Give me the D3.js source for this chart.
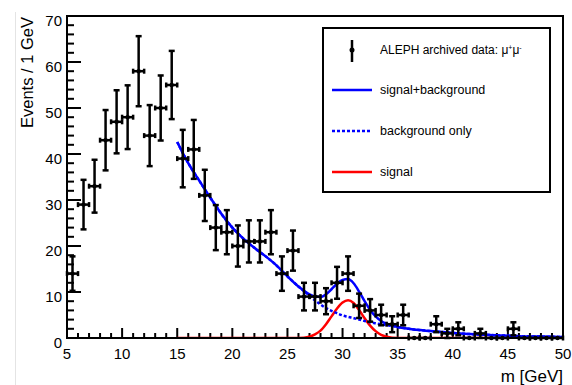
<!DOCTYPE html>
<html>
<head>
<meta charset="utf-8">
<script src="https://cdn.jsdelivr.net/npm/d3@7"></script>
<style>
    body { margin: 0; background: #fff; }
    svg { display: block; font-family: "Liberation Sans", Arial, sans-serif; }
</style>
</head>
<body>
<svg id="chartSvg" width="572" height="385"></svg>
<script>
// histogram of the mu+mu- mass, ALEPH archived data, with fit curves

// bin centres (1 GeV bins) and counts
let binCenters = [5.5, 6.5, 7.5, 8.5, 9.5, 10.5, 11.5, 12.5, 13.5, 14.5,
    15.5, 16.5, 17.5, 18.5, 19.5, 20.5, 21.5, 22.5, 23.5, 24.5,
    25.5, 26.5, 27.5, 28.5, 29.5, 30.5, 31.5, 32.5, 33.5, 34.5,
    35.5, 36.5, 37.5, 38.5, 39.5, 40.5, 41.5, 42.5, 43.5, 44.5,
    45.5, 46.5, 47.5, 48.5, 49.5];
let binCounts = [14, 29, 33, 43, 47, 48, 58, 44, 50, 55,
    39, 41, 31, 24, 23, 20, 21, 21, 23, 14,
    19, 9, 9, 8, 12, 14, 7, 6, 5, 3,
    5, 0, 0, 3, 1, 2, 0, 1, 0, 0,
    2, 0, 0, 0, 0];

// fit curves
let curveX = [15, 16, 17, 18, 19, 20, 21, 22, 23, 24, 25, 26, 27, 27.5, 28, 28.5, 29, 29.5,
    30, 30.5, 31, 31.5, 32, 32.5, 33, 33.5, 34, 35, 36, 38, 40, 42, 44, 46, 48, 50];
let backgroundY = [42.6, 38, 34.2, 30.5, 27, 24, 21.6, 19.6, 17.8, 15.8, 13.4, 11.2, 9.2, 8.2, 7.3, 6.5, 5.9, 5.4,
    4.9, 4.6, 4.3, 4.0, 3.7, 3.4, 3.2, 3.0, 2.8, 2.4, 2.0, 1.5, 1.1, 0.8, 0.6, 0.4, 0.3, 0.2];
let signalY = [0, 0, 0, 0, 0, 0, 0, 0, 0, 0, 0, 0, 0.3, 0.8, 1.6, 3.0, 4.7, 6.4,
    7.7, 8.2, 7.6, 6.1, 4.3, 2.7, 1.5, 0.7, 0.3, 0, 0, 0, 0, 0, 0, 0, 0, 0];
let totalY = [42.6, 38, 34.2, 30.5, 27, 24, 21.6, 19.6, 17.8, 15.8, 13.4, 11.2, 9.5, 9.0, 8.9, 9.5, 10.6, 11.8,
    12.6, 12.8, 11.9, 10.1, 8.0, 6.1, 4.7, 3.7, 3.1, 2.4, 2.0, 1.5, 1.1, 0.8, 0.6, 0.4, 0.3, 0.2];

let xTicks = [5, 10, 15, 20, 25, 30, 35, 40, 45, 50];
let yTicks = [0, 10, 20, 30, 40, 50, 60, 70];

let legendLabels = ["signal+background", "background only", "signal"];
let legendColors = ["#0000ff", "#0000ff", "#ff0000"];
let legendDash = [null, "3,2", null];

let chartMargin = {left: 67, top: 16, right: 9, bottom: 47};
let chartWidth = 572 - chartMargin.left - chartMargin.right;
let chartHeight = 385 - chartMargin.top - chartMargin.bottom;

let xScale = d3.scaleLinear().domain([5, 50]).range([0, chartWidth]);
let yScale = d3.scaleLinear().domain([0, 70]).range([chartHeight, 0]);

function drawChart() {
    let svg = d3.select("#chartSvg");

    // faint edge of the screenshot on the left
    svg.append("line")
        .attr("x1", 15.5).attr("x2", 15.5)
        .attr("y1", 12).attr("y2", 385)
        .attr("stroke", "#e4e4e4")
        .attr("stroke-width", 1);

    let g = svg.append("g")
        .attr("transform", "translate(" + chartMargin.left + "," + chartMargin.top + ")");

    g.append("clipPath").attr("id", "plotClip")
        .append("rect")
        .attr("width", chartWidth)
        .attr("height", chartHeight);

    drawAxes(g);
    drawCurves(g);
    drawPoints(g);
    drawFrame(g);
    drawLegend(svg);
    drawTitles(svg);
}

function drawAxes(g) {
    // ticks point into the frame, like ROOT
    let xMinor = d3.range(5, 51, 1);
    g.append("g")
        .selectAll("line")
        .data(xMinor)
        .enter()
        .append("line")
        .attr("x1", function (d) { return xScale(d); })
        .attr("x2", function (d) { return xScale(d); })
        .attr("y1", chartHeight)
        .attr("y2", function (d) { return d % 5 === 0 ? chartHeight - 10 : chartHeight - 5; })
        .attr("stroke", "#000")
        .attr("stroke-width", 2);

    let yMinor = d3.range(0, 71, 2);
    g.append("g")
        .selectAll("line")
        .data(yMinor)
        .enter()
        .append("line")
        .attr("y1", function (d) { return yScale(d); })
        .attr("y2", function (d) { return yScale(d); })
        .attr("x1", 0)
        .attr("x2", function (d) { return d % 10 === 0 ? 14 : 7; })
        .attr("stroke", "#000")
        .attr("stroke-width", 2);

    g.append("g")
        .selectAll("text")
        .data(xTicks)
        .enter()
        .append("text")
        .attr("x", function (d) { return xScale(d); })
        .attr("y", chartHeight + 21)
        .attr("text-anchor", "middle")
        .attr("font-size", "15px")
        .attr("fill", "#000")
        .text(function (d) { return d; });

    g.append("g")
        .selectAll("text")
        .data(yTicks)
        .enter()
        .append("text")
        .attr("x", -5)
        .attr("y", function (d) { return yScale(d) + 10; })
        .attr("text-anchor", "end")
        .attr("font-size", "15px")
        .attr("fill", "#000")
        .text(function (d) { return d; });
}

function drawCurves(g) {
    let curves = [
        {y: signalY, color: "#ff0000", dash: null},
        {y: backgroundY, color: "#0000ff", dash: "3,2"},
        {y: totalY, color: "#0000ff", dash: null}
    ];
    let fitLine = d3.line()
        .x(function (d) { return xScale(d[0]); })
        .y(function (d) { return yScale(d[1]); })
        .curve(d3.curveMonotoneX);

    g.append("g")
        .attr("clip-path", "url(#plotClip)")
        .selectAll("path")
        .data(curves)
        .enter()
        .append("path")
        .attr("d", function (c) { return fitLine(d3.zip(curveX, c.y)); })
        .attr("fill", "none")
        .attr("stroke", function (c) { return c.color; })
        .attr("stroke-width", 2.5)
        .attr("stroke-dasharray", function (c) { return c.dash; });
}

function drawPoints(g) {
    let pts = d3.zip(binCenters, binCounts).map(function (d) {
        return {x: d[0], n: d[1], err: Math.sqrt(d[1])};
    });

    let pg = g.append("g")
        .selectAll("g")
        .data(pts)
        .enter()
        .append("g")
        .attr("stroke", "#000")
        .attr("stroke-width", 2.5);

    // horizontal bar with small end caps
    pg.append("line")
        .attr("x1", function (d) { return xScale(d.x - 0.5); })
        .attr("x2", function (d) { return xScale(d.x + 0.5); })
        .attr("y1", function (d) { return yScale(d.n); })
        .attr("y2", function (d) { return yScale(d.n); });
    pg.append("line")
        .attr("x1", function (d) { return xScale(d.x - 0.5); })
        .attr("x2", function (d) { return xScale(d.x - 0.5); })
        .attr("y1", function (d) { return yScale(d.n) - 2.5; })
        .attr("y2", function (d) { return yScale(d.n) + 2.5; });
    pg.append("line")
        .attr("x1", function (d) { return xScale(d.x + 0.5); })
        .attr("x2", function (d) { return xScale(d.x + 0.5); })
        .attr("y1", function (d) { return yScale(d.n) - 2.5; })
        .attr("y2", function (d) { return yScale(d.n) + 2.5; });

    // vertical error bar with caps
    pg.filter(function (d) { return d.n > 0; })
        .each(function (d) {
            let el = d3.select(this);
            let cx = xScale(d.x);
            el.append("line")
                .attr("x1", cx).attr("x2", cx)
                .attr("y1", yScale(d.n + d.err))
                .attr("y2", yScale(d.n - d.err));
            el.append("line")
                .attr("x1", cx - 3).attr("x2", cx + 3)
                .attr("y1", yScale(d.n + d.err))
                .attr("y2", yScale(d.n + d.err));
            el.append("line")
                .attr("x1", cx - 3).attr("x2", cx + 3)
                .attr("y1", yScale(d.n - d.err))
                .attr("y2", yScale(d.n - d.err));
        });

    pg.append("circle")
        .attr("cx", function (d) { return xScale(d.x); })
        .attr("cy", function (d) { return yScale(d.n); })
        .attr("r", 2.2)
        .attr("fill", "#000")
        .attr("stroke", "none");
}

function drawFrame(g) {
    g.append("rect")
        .attr("width", chartWidth)
        .attr("height", chartHeight)
        .attr("fill", "none")
        .attr("stroke", "#000")
        .attr("stroke-width", 2);
}

function drawLegend(svg) {
    let lg = svg.append("g");

    lg.append("rect")
        .attr("x", 323).attr("y", 28)
        .attr("width", 227).attr("height", 164)
        .attr("fill", "#fff")
        .attr("stroke", "#000")
        .attr("stroke-width", 2);

    // data marker entry
    lg.append("line")
        .attr("x1", 352).attr("x2", 352)
        .attr("y1", 40).attr("y2", 62)
        .attr("stroke", "#000").attr("stroke-width", 2.5);
    lg.append("circle")
        .attr("cx", 352).attr("cy", 50).attr("r", 2.5)
        .attr("fill", "#000");

    let t = lg.append("text")
        .attr("x", 380).attr("y", 54)
        .attr("font-size", "12px")
        .attr("fill", "#000");
    t.append("tspan").text("ALEPH archived data: \u03bc");
    t.append("tspan").attr("dy", -4).attr("font-size", "7px").text("+");
    t.append("tspan").attr("dy", 4).text("\u03bc");
    t.append("tspan").attr("dy", -4).attr("font-size", "7px").text("-");

    let entryY = [90, 131, 172];
    let rows = lg.selectAll("g.row")
        .data(legendLabels)
        .enter()
        .append("g")
        .attr("class", "row");

    rows.append("line")
        .attr("x1", 332).attr("x2", 372)
        .attr("y1", function (d, i) { return entryY[i]; })
        .attr("y2", function (d, i) { return entryY[i]; })
        .attr("stroke", function (d, i) { return legendColors[i]; })
        .attr("stroke-width", 2.5)
        .attr("stroke-dasharray", function (d, i) { return legendDash[i]; });

    rows.append("text")
        .attr("x", 380)
        .attr("y", function (d, i) { return entryY[i] + 4; })
        .attr("font-size", "12.5px")
        .attr("fill", "#000")
        .text(function (d) { return d; });
}

function drawTitles(svg) {
    svg.append("text")
        .attr("transform", "translate(33,17) rotate(-90)")
        .attr("text-anchor", "end")
        .attr("font-size", "16.5px")
        .attr("fill", "#000")
        .text("Events / 1 GeV");

    svg.append("text")
        .attr("x", 563)
        .attr("y", 382)
        .attr("text-anchor", "end")
        .attr("font-size", "17px")
        .attr("fill", "#000")
        .text("m [GeV]");
}

drawChart();
</script>
</body>
</html>
